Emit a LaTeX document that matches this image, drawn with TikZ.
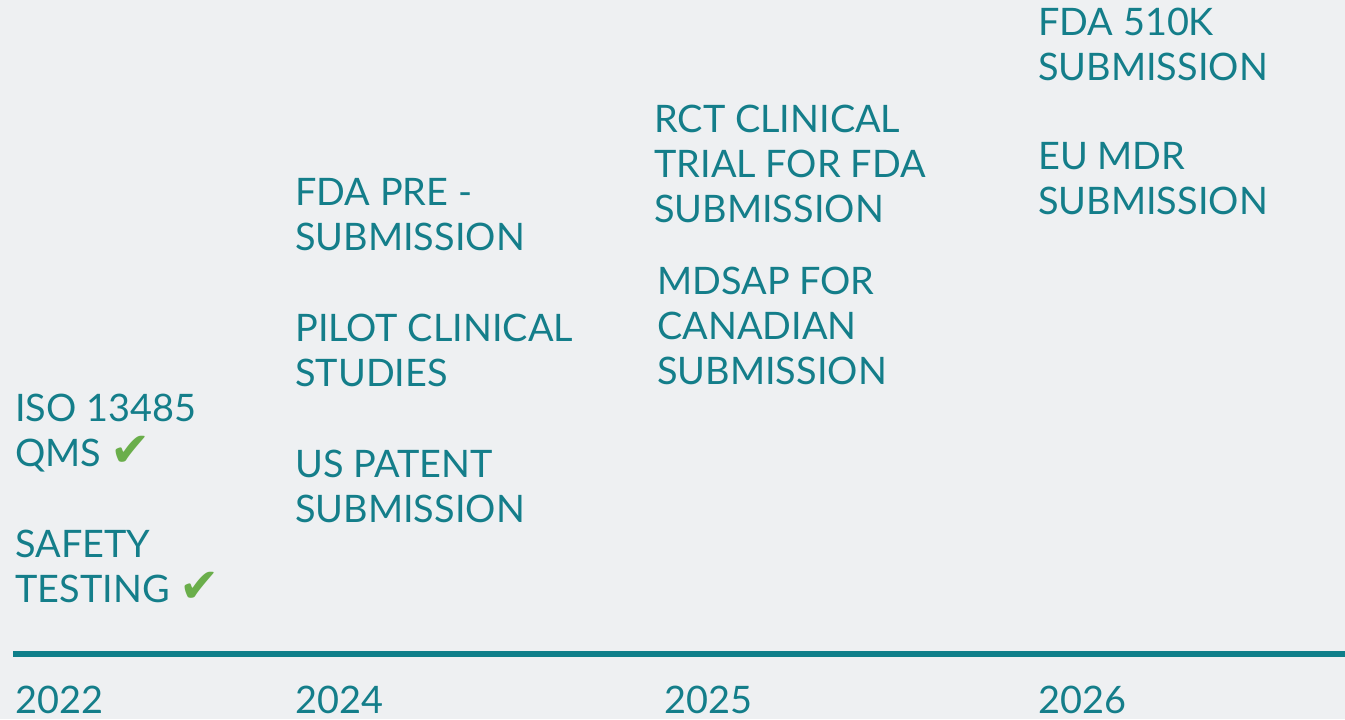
\documentclass[tikz,border=0pt]{standalone}
\usepackage{fontspec}
\setmainfont{Lato}
\newfontfamily\symfont{DejaVu Sans}
\definecolor{bgcol}{HTML}{EEF0F2}
\definecolor{tealtext}{HTML}{147E8A}
\definecolor{tealline}{HTML}{0E7F8A}
\definecolor{checkgreen}{HTML}{6AAE4B}
\newcommand{\donemark}{{\symfont\fontsize{36}{36}\selectfont\color{checkgreen}\char"2714}}
\begin{document}
\begin{tikzpicture}[x=0.75pt, y=-0.75pt,
  milestone/.style={anchor=base west, inner sep=0pt, align=left, text=tealtext,
    font=\fontsize{28.4}{33.4}\selectfont},
  yearlabel/.style={anchor=base west, inner sep=0pt, text=tealtext,
    font=\fontsize{28.4}{33.4}\selectfont}]
\fill[bgcol] (0,0) rectangle (1345,719);
\useasboundingbox (0,0) rectangle (1345,719);

% timeline
\coordinate (lineL) at (13,654);
\coordinate (lineR) at (1345,654);
\draw[tealline, line width=4.5pt] (lineL) -- (lineR);

% years (anchored at last baseline)
\node[yearlabel] (y2022) at (15,713) {2022};
\node[yearlabel] (y2024) at (295,713) {2024};
\node[yearlabel] (y2025) at (664,713) {2025};
\node[yearlabel] (y2026) at (1038,713) {2026};

% 2022
\node[milestone] (iso) at (15,466) {ISO 13485\\QMS \donemark};
\node[milestone] (safety) at (15,602) {SAFETY\\TESTING \donemark};

% 2024
\node[milestone] (presub) at (295,250) {FDA PRE -\\SUBMISSION};
\node[milestone] (pilot) at (295,386) {PILOT CLINICAL\\STUDIES};
\node[milestone] (patent) at (295,522) {US PATENT\\SUBMISSION};

% 2025
\node[milestone] (rct) at (654,222) {RCT CLINICAL\\TRIAL FOR FDA\\SUBMISSION};
\node[milestone] (mdsap) at (657,384) {MDSAP FOR\\CANADIAN\\SUBMISSION};

% 2026
\node[milestone] (fda510) at (1038,80) {FDA 510K\\SUBMISSION};
\node[milestone] (eumdr) at (1038,214) {EU MDR\\SUBMISSION};
\end{tikzpicture}
\end{document}
